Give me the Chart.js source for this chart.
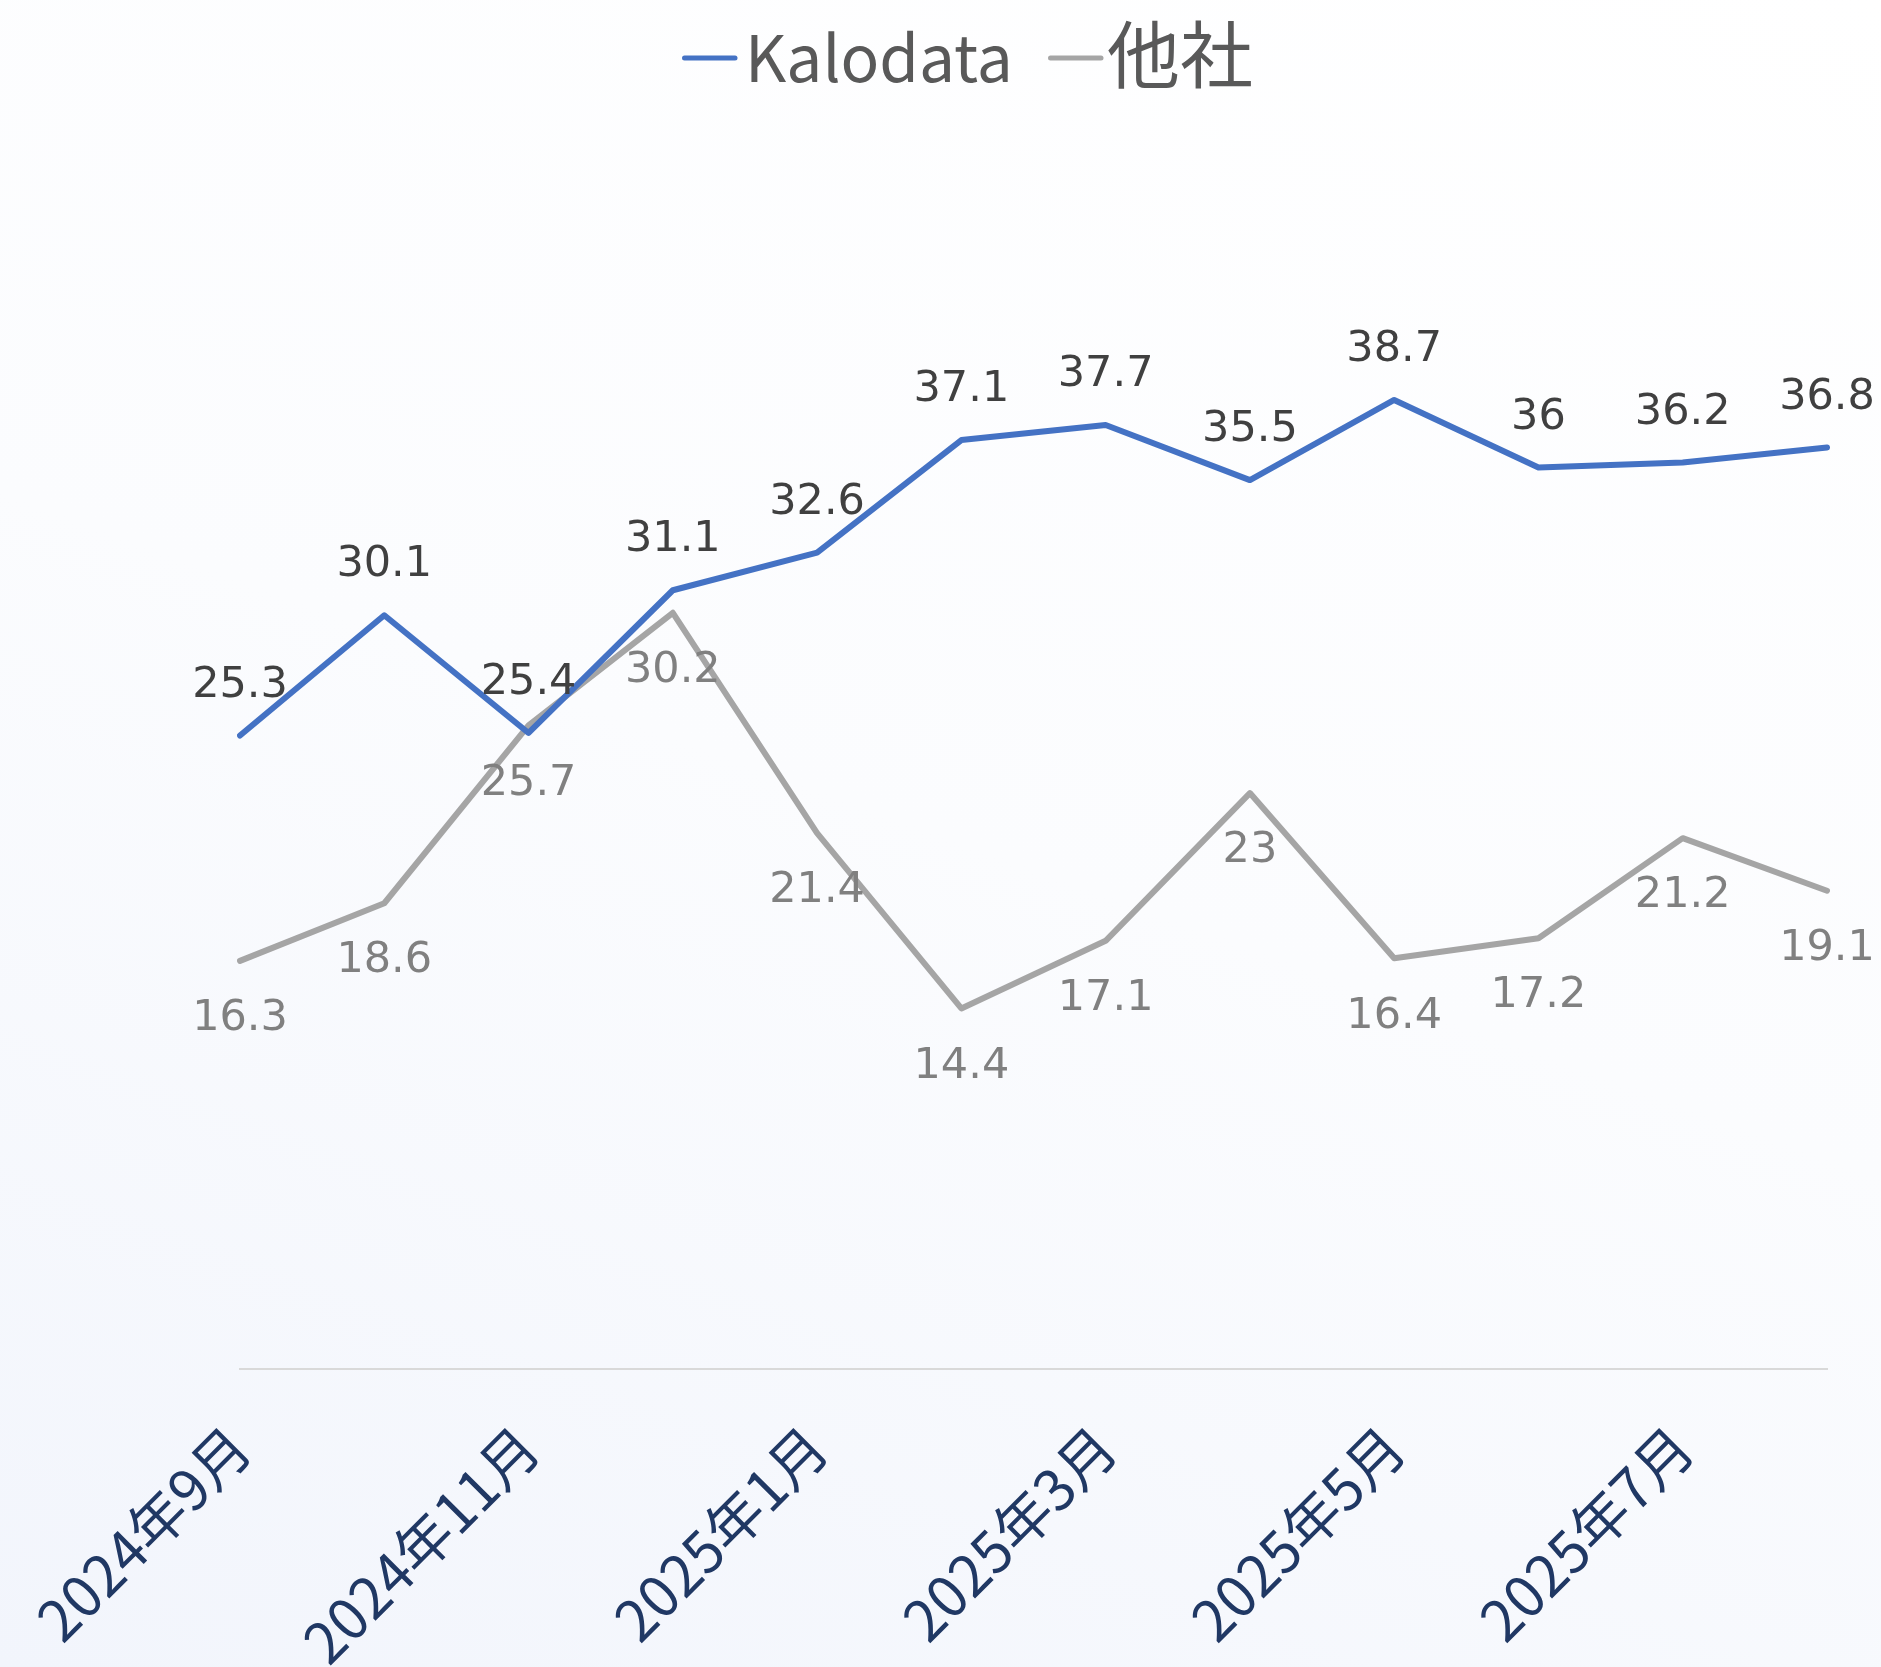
<!DOCTYPE html>
<html><head><meta charset="utf-8">
<script src="https://cdn.jsdelivr.net/npm/chart.js@4.4.1/dist/chart.umd.min.js"></script>
<style>
html,body{margin:0;padding:0;}
body{width:1881px;height:1667px;background:linear-gradient(200deg,#ffffff 0%,#fbfcfe 50%,#f2f5fc 100%);}
canvas{display:block;}
</style></head><body>
<canvas id="c" width="1881" height="1667"></canvas>
<script>
const categories = ['2024年9月','2024年10月','2024年11月','2024年12月','2025年1月','2025年2月','2025年3月','2025年4月','2025年5月','2025年6月','2025年7月','2025年8月'];
const kalodataValues = [25.3, 30.1, 25.4, 31.1, 32.6, 37.1, 37.7, 35.5, 38.7, 36, 36.2, 36.8];
const othersValues = [16.3, 18.6, 25.7, 30.2, 21.4, 14.4, 17.1, 23, 16.4, 17.2, 21.2, 19.1];
const seriesNames = ['Kalodata', '他社'];

// data value labels
const labelPlugin = {
  id: 'valueLabels',
  afterDatasetsDraw(chart) {
    const ctx = chart.ctx;
    ctx.save();
    ctx.font = '43px "DejaVu Sans"';
    ctx.textAlign = 'center';
    ctx.textBaseline = 'middle';
    chart.data.datasets.forEach((ds, di) => {
      const meta = chart.getDatasetMeta(di);
      meta.data.forEach((pt, i) => {
        const v = ds.data[i];
        if (di === 0) { ctx.fillStyle = '#404040'; ctx.fillText(String(v), pt.x, pt.y - 50); }
        else { ctx.fillStyle = '#808080'; ctx.fillText(String(v), pt.x, pt.y + 58); }
      });
    });
    ctx.restore();
  }
};

// legend drawn at top
const legendPlugin = {
  id: 'topLegend',
  afterDraw(chart) {
    const ctx = chart.ctx;
    const ds = chart.data.datasets;
    const items = [
      { x: 682, textX: 745, font: '64px "Noto Sans CJK JP"', base: 'alphabetic', ty: 82 },
      { x: 1048, textX: 1107, font: '73px "Noto Sans CJK JP"', base: 'middle', ty: 54 }
    ];
    ctx.save();
    items.forEach((it, i) => {
      ctx.strokeStyle = ds[i].borderColor;
      ctx.lineWidth = 5;
      ctx.lineCap = 'round';
      ctx.beginPath();
      ctx.moveTo(it.x + 2.5, 58);
      ctx.lineTo(it.x + 53, 58);
      ctx.stroke();
      ctx.fillStyle = '#595959';
      ctx.font = it.font;
      ctx.textAlign = 'left';
      ctx.textBaseline = it.base;
      ctx.fillText(ds[i].label, it.textX, it.ty);
    });
    ctx.restore();
  }
};

new Chart(document.getElementById('c'), {
  type: 'line',
  data: {
    labels: categories,
    datasets: [
      { label: seriesNames[0], data: kalodataValues, borderColor: '#4472C4', backgroundColor: '#4472C4', borderWidth: 6, pointRadius: 0, tension: 0, borderCapStyle: 'round', borderJoinStyle: 'round' },
      { label: seriesNames[1], data: othersValues, borderColor: '#A5A5A5', backgroundColor: '#A5A5A5', borderWidth: 6, pointRadius: 0, tension: 0, borderCapStyle: 'round', borderJoinStyle: 'round' }
    ]
  },
  options: {
    responsive: false,
    animation: false,
    devicePixelRatio: 1,
    layout: { padding: { left: 240, right: 54, top: 117, bottom: 0 } },
    plugins: {
      tooltip: { enabled: false },
      legend: { display: false }
    },
    scales: {
      x: {
        grid: { display: false },
        border: { display: true, color: '#D9D9D9', width: 2 },
        ticks: {
          autoSkip: false,
          maxRotation: 45,
          minRotation: 45,
          padding: 36,
          color: '#203864',
          font: { family: '"Noto Sans CJK JP"', size: 57 },
          callback: (v, i) => (i % 2 === 0 ? categories[i] : '')
        },
        afterFit: (scale) => { scale.height = 298; scale.paddingLeft = 0; scale.paddingRight = 0; }
      },
      y: { display: false, min: 0, max: 50 }
    }
  },
  plugins: [labelPlugin, legendPlugin]
});
</script>
</body></html>
